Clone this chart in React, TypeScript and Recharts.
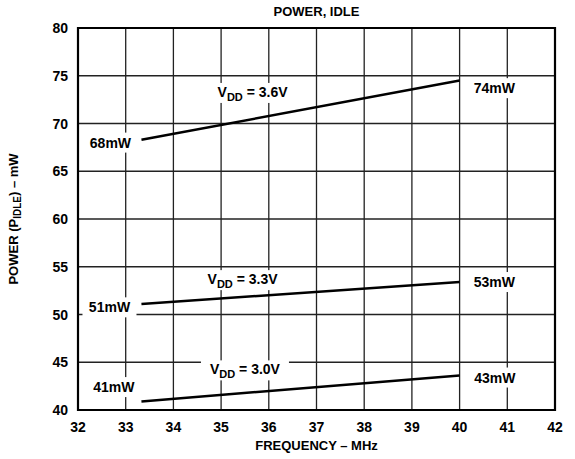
import React from 'react'
import {
  ComposedChart,
  Line,
  Scatter,
  XAxis,
  YAxis,
  CartesianGrid,
  ReferenceArea,
} from 'recharts'

// frequency (MHz) vs idle power (mW)
const vdd36 = [
  { freq: 33.33, power: 68.3 },
  { freq: 40, power: 74.5 },
]
const vdd33 = [
  { freq: 33.33, power: 51.1 },
  { freq: 40, power: 53.4 },
]
const vdd30 = [
  { freq: 33.33, power: 40.9 },
  { freq: 40, power: 43.6 },
]

const xTicks = [32, 33, 34, 35, 36, 37, 38, 39, 40, 41, 42]
const yTicks = [40, 45, 50, 55, 60, 65, 70, 75, 80]

// callouts placed in data space
const notes = [
  { freq: 32.68, power: 68, text: '68mW', vdd: '' },
  { freq: 40.73, power: 73.7, text: '74mW', vdd: '' },
  { freq: 35.66, power: 73.2, text: '', vdd: '3.6V' },
  { freq: 32.66, power: 50.75, text: '51mW', vdd: '' },
  { freq: 40.73, power: 53.4, text: '53mW', vdd: '' },
  { freq: 35.45, power: 53.6, text: '', vdd: '3.3V' },
  { freq: 32.75, power: 42.4, text: '41mW', vdd: '' },
  { freq: 40.74, power: 43.4, text: '43mW', vdd: '' },
  { freq: 35.5, power: 44.15, text: '', vdd: '3.0V' },
]

const FONT = '"Liberation Sans", Arial, sans-serif'

const NoteShape = (props: any) => {
  const { cx, cy, payload } = props
  if (payload.vdd) {
    return (
      <g>
        <rect x={cx - 44} y={cy - 10} width={88} height={20} fill="#fff" />
        <text x={cx} y={cy + 4} textAnchor="middle" fontFamily={FONT} fontWeight="bold" fontSize={14} fill="#000">
          V<tspan fontSize={11} dy={4}>DD</tspan>
          <tspan dy={-4}>{` = ${payload.vdd}`}</tspan>
        </text>
      </g>
    )
  }
  return (
    <g>
      <rect x={cx - 27} y={cy - 10} width={54} height={20} fill="#fff" />
      <text x={cx} y={cy + 5} textAnchor="middle" fontFamily={FONT} fontWeight="bold" fontSize={14} fill="#000">
        {payload.text}
      </text>
    </g>
  )
}

const XTick = (props: any) => {
  const { x, y, payload } = props
  return (
    <text x={x} y={y + 14} textAnchor="middle" fontFamily={FONT} fontWeight="bold" fontSize={14} fill="#000">
      {payload.value}
    </text>
  )
}

const YTick = (props: any) => {
  const { x, y, payload } = props
  return (
    <text x={x - 2} y={y + 5} textAnchor="end" fontFamily={FONT} fontWeight="bold" fontSize={14} fill="#000">
      {payload.value}
    </text>
  )
}

const YLabel = (props: any) => {
  const vb = props.viewBox
  const x = vb.x + 18
  const y = vb.y + vb.height / 2
  return (
    <text x={x} y={y} transform={`rotate(-90 ${x} ${y})`} textAnchor="middle" fontFamily={FONT} fontWeight="bold" fontSize={13} fill="#000">
      POWER (P<tspan fontSize={10} dy={3}>IDLE</tspan>
      <tspan dy={-3}>) – mW</tspan>
    </text>
  )
}

const XLabel = (props: any) => {
  const vb = props.viewBox
  const x = vb.x + vb.width / 2
  const y = vb.y + 40
  return (
    <text x={x} y={y} textAnchor="middle" fontFamily={FONT} fontWeight="bold" fontSize={13} fill="#000">
      FREQUENCY – MHz
    </text>
  )
}

export default function App() {
  return (
    <div style={{ position: 'absolute', left: 0, top: 0, background: '#fff' }}>
      <div style={{ position: 'relative' }}>
        <div
          style={{
            position: 'absolute',
            left: 78,
            width: 477,
            top: 4,
            textAlign: 'center',
            fontFamily: FONT,
            fontWeight: 'bold',
            fontSize: 13,
          }}
        >
          POWER, IDLE
        </div>
        <ComposedChart width={575} height={459} margin={{ top: 28, right: 20, left: 0, bottom: 0 }}>
          <CartesianGrid stroke="#222" strokeWidth={1.3} />
          <XAxis
            type="number"
            dataKey="freq"
            domain={[32, 42]}
            ticks={xTicks}
            interval={0}
            allowDataOverflow
            height={49}
            tickLine={false}
            axisLine={false}
            tick={<XTick />}
            label={<XLabel />}
          />
          <YAxis
            type="number"
            dataKey="power"
            domain={[40, 80]}
            ticks={yTicks}
            interval={0}
            allowDataOverflow
            width={78}
            tickLine={false}
            axisLine={false}
            tick={<YTick />}
            label={<YLabel />}
          />
          <ReferenceArea x1={32} x2={42} y1={40} y2={80} fill="none" stroke="#000" strokeWidth={2.2} ifOverflow="visible" />
          <Line data={vdd36} dataKey="power" stroke="#000" strokeWidth={2.5} dot={false} isAnimationActive={false} />
          <Line data={vdd33} dataKey="power" stroke="#000" strokeWidth={2.5} dot={false} isAnimationActive={false} />
          <Line data={vdd30} dataKey="power" stroke="#000" strokeWidth={2.5} dot={false} isAnimationActive={false} />
          <Scatter data={notes} dataKey="power" shape={NoteShape} isAnimationActive={false} />
        </ComposedChart>
      </div>
    </div>
  )
}
